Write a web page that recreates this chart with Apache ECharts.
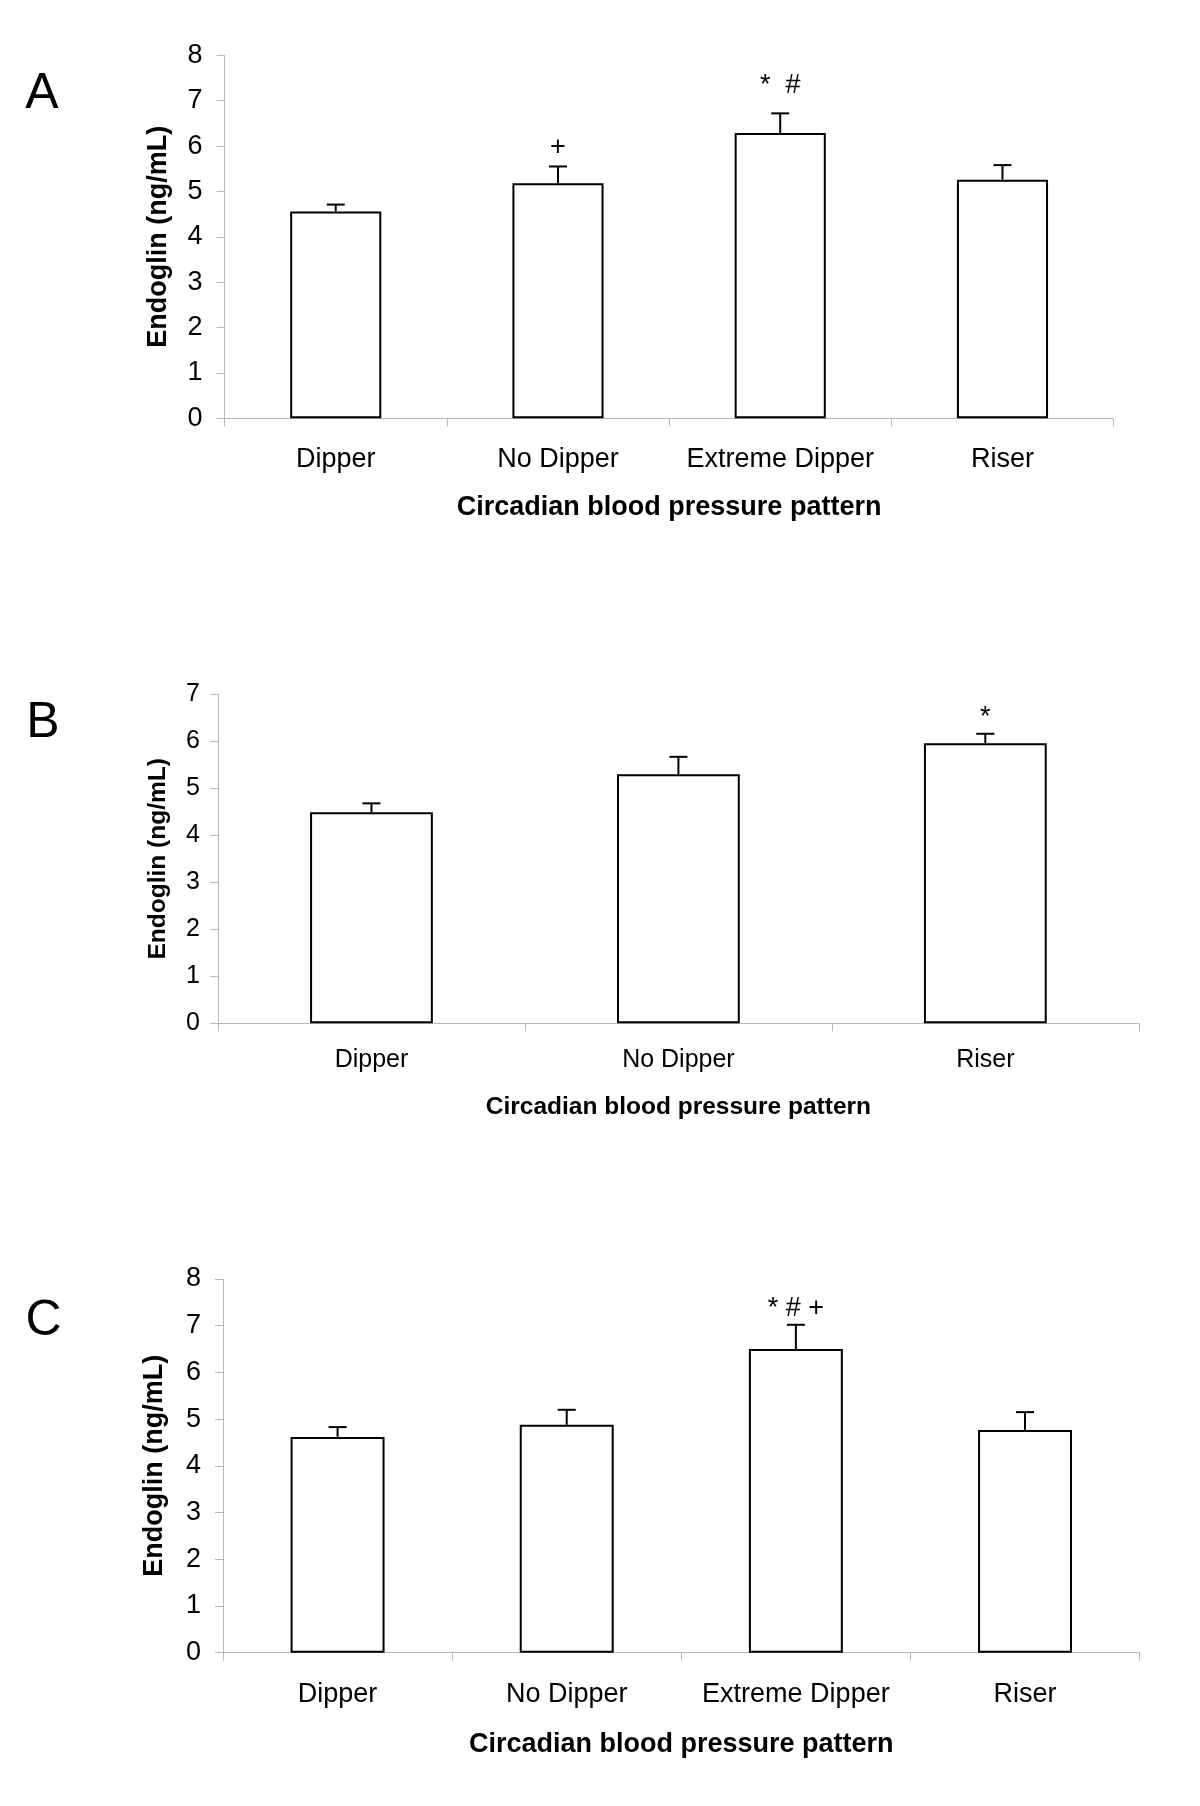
<!DOCTYPE html>
<html><head><meta charset="utf-8">
<script src="https://cdn.jsdelivr.net/npm/echarts@6/dist/echarts.min.js"></script>
<style>html,body{margin:0;padding:0;background:#fff}#chart{width:1200px;height:1806px}</style>
</head><body><div id="chart"></div>
<script>
// ---- Data ----
const categoriesA = ['Dipper', 'No Dipper', 'Extreme Dipper', 'Riser'];
const meanA = [4.56, 5.18, 6.29, 5.26];
const semA = [0.15, 0.37, 0.43, 0.32];
const annotA = ['', '+', '*  #', ''];

const categoriesB = ['Dipper', 'No Dipper', 'Riser'];
const meanB = [4.49, 5.30, 5.96];
const semB = [0.19, 0.37, 0.20];
const annotB = ['', '', '*'];

const categoriesC = ['Dipper', 'No Dipper', 'Extreme Dipper', 'Riser'];
const meanC = [4.62, 4.88, 6.50, 4.77];
const semC = [0.21, 0.32, 0.52, 0.38];
const annotC = ['', '', '* # +', ''];

const yMaxA = 8, yMaxB = 7, yMaxC = 8;
const yTitle = 'Endoglin (ng/mL)';
const xTitle = 'Circadian blood pressure pattern';
const panelLetters = ['A', 'B', 'C'];

// ---- Layout / style (not data) ----
const FONT = '"Liberation Sans", Arial, Helvetica, sans-serif';
const AXIS_GRAY = '#b8b8b8';
const panels = [
  {cats: categoriesA, mean: meanA, sem: semA, annot: annotA, yMax: yMaxA,
   grid: {left: 224.6, top: 55.3, width: 889, height: 363},
   catFont: 27, tickFont: 27, titleFont: 27, yLabelMargin: 22, xLabelMargin: 28,
   xNameGap: 76, yNameGap: 53, barWidth: '41%', annotOffset: [0, 19, 28, 0],
   letterPos: [42, 94.5]},
  {cats: categoriesB, mean: meanB, sem: semB, annot: annotB, yMax: yMaxB,
   grid: {left: 218, top: 694.3, width: 920.8, height: 329},
   catFont: 25, tickFont: 25, titleFont: 24.5, yLabelMargin: 18, xLabelMargin: 24,
   xNameGap: 71, yNameGap: 47, barWidth: '40%', annotOffset: [0, 0, 16],
   letterPos: [43, 723]},
  {cats: categoriesC, mean: meanC, sem: semC, annot: annotC, yMax: yMaxC,
   grid: {left: 223, top: 1279, width: 916.6, height: 373.7},
   catFont: 27, tickFont: 27, titleFont: 27, yLabelMargin: 22, xLabelMargin: 28,
   xNameGap: 78, yNameGap: 54.5, barWidth: '41%', annotOffset: [0, 0, 16, 0],
   letterPos: [43.6, 1321]}
];

const grids = [], xAxes = [], yAxes = [], series = [], graphics = [];
panels.forEach((p, k) => {
  grids.push(Object.assign({containLabel: false}, p.grid));
  xAxes.push({
    type: 'category', gridIndex: k, data: p.cats,
    name: xTitle, nameLocation: 'middle', nameGap: p.xNameGap,
    nameTextStyle: {fontFamily: FONT, fontSize: p.titleFont, fontWeight: 'bold', color: '#000'},
    axisLine: {show: true, lineStyle: {color: AXIS_GRAY, width: 1}},
    axisTick: {show: true, length: 8, lineStyle: {color: AXIS_GRAY}},
    axisLabel: {interval: 0, margin: p.xLabelMargin, fontFamily: FONT, fontSize: p.catFont, color: '#000'},
    splitLine: {show: false}
  });
  yAxes.push({
    type: 'value', gridIndex: k, min: 0, max: p.yMax, interval: 1,
    name: yTitle, nameLocation: 'middle', nameGap: p.yNameGap,
    nameTextStyle: {fontFamily: FONT, fontSize: p.titleFont, fontWeight: 'bold', color: '#000'},
    axisLine: {show: true, lineStyle: {color: AXIS_GRAY, width: 1}},
    axisTick: {show: true, length: 8, lineStyle: {color: AXIS_GRAY}},
    axisLabel: {margin: p.yLabelMargin, fontFamily: FONT, fontSize: p.tickFont, color: '#000'},
    splitLine: {show: false}
  });
  series.push({
    type: 'bar', xAxisIndex: k, yAxisIndex: k, data: p.mean, barWidth: p.barWidth,
    itemStyle: {color: '#fff', borderColor: '#000', borderWidth: 2},
    silent: true, z: 2
  });
  const errData = p.mean.map((m, i) => [i, m, p.sem[i]]);
  series.push({
    type: 'custom', xAxisIndex: k, yAxisIndex: k, data: errData, z: 5,
    encode: {x: 0, y: 1}, silent: true,
    renderItem: function (params, api) {
      const i = api.value(0), m = api.value(1), s = api.value(2);
      const base = api.coord([i, m]);
      const top = api.coord([i, m + s]);
      const cap = 9;
      const children = [
        {type: 'line', shape: {x1: base[0], y1: base[1], x2: top[0], y2: top[1]}, style: {stroke: '#000', lineWidth: 2}},
        {type: 'line', shape: {x1: top[0] - cap, y1: top[1], x2: top[0] + cap, y2: top[1]}, style: {stroke: '#000', lineWidth: 2}}
      ];
      const txt = p.annot[params.dataIndex];
      if (txt) {
        children.push({type: 'text', x: top[0], y: top[1] - p.annotOffset[params.dataIndex],
          style: {text: txt, fontFamily: FONT, fontSize: 27, fill: '#000', align: 'center', verticalAlign: 'middle'}});
      }
      return {type: 'group', children: children};
    }
  });
  graphics.push({type: 'text', x: p.letterPos[0], y: p.letterPos[1],
    style: {text: panelLetters[k], fontFamily: FONT, fontSize: 50, fill: '#000', align: 'center', verticalAlign: 'middle'}});
});

const chart = echarts.init(document.getElementById('chart'), null, {renderer: 'canvas'});
chart.setOption({
  animation: false,
  backgroundColor: '#fff',
  grid: grids, xAxis: xAxes, yAxis: yAxes, series: series, graphic: graphics
});
</script></body></html>
